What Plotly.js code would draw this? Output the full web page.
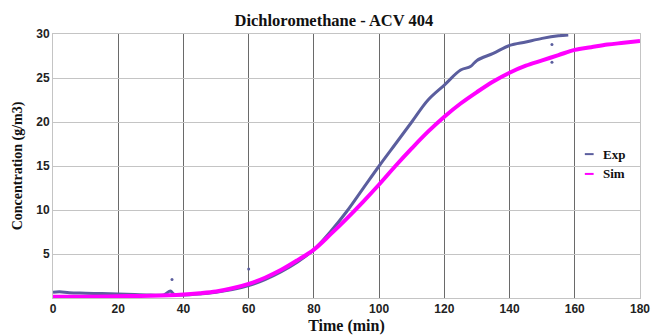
<!DOCTYPE html>
<html>
<head>
<meta charset="utf-8">
<script src="https://cdn.plot.ly/plotly-3.0.1.min.js"></script>
<style>html,body{margin:0;padding:0;background:#fff;}#chart{width:656px;height:335px;}</style>
</head>
<body>
<div id="chart"></div>
<script>
// Experimental data (time in min, concentration in g/m3)
const expTime = [0, 2, 5, 10, 15, 20, 25, 30, 34, 36, 37, 40, 45, 50, 55, 60, 65, 70, 75, 80, 85, 90, 95, 100, 105, 110, 115, 120, 125, 128, 130, 135, 140, 145, 150, 155, 158];
const expConc = [0.65, 0.7, 0.6, 0.55, 0.5, 0.45, 0.4, 0.35, 0.35, 0.8, 0.45, 0.35, 0.45, 0.65, 0.95, 1.4, 2.1, 3.0, 4.1, 5.5, 7.5, 9.8, 12.4, 15.0, 17.5, 20.0, 22.5, 24.2, 25.9, 26.3, 27.0, 27.8, 28.7, 29.1, 29.5, 29.8, 29.9];
// Scattered experimental outliers
const outTime = [36.5, 60, 153, 153];
const outConc = [2.1, 3.3, 28.8, 26.8];
// Simulation
const simTime = [0, 10, 20, 30, 40, 45, 50, 55, 60, 65, 70, 75, 80, 85, 90, 95, 100, 105, 110, 115, 120, 125, 130, 135, 140, 145, 150, 155, 160, 165, 170, 175, 180];
const simConc = [0.15, 0.15, 0.2, 0.25, 0.4, 0.55, 0.75, 1.1, 1.6, 2.3, 3.2, 4.3, 5.5, 7.2, 9.0, 10.9, 12.9, 15.0, 17.0, 18.9, 20.6, 22.1, 23.4, 24.6, 25.6, 26.4, 27.0, 27.6, 28.2, 28.5, 28.8, 29.0, 29.2];
const xTicks = [0, 20, 40, 60, 80, 100, 120, 140, 160, 180];
const yTicks = [5, 10, 15, 20, 25, 30];
const seriesNames = ['Exp', 'Sim'];

const expColor = '#5b5e9e';
const simColor = '#ff00ff';
const seriesColors = [expColor, simColor];

const traces = [
  {x: expTime, y: expConc, name: seriesNames[0], mode: 'lines', showlegend: false, line: {color: expColor, width: 3, shape: 'spline'}},
  {x: simTime, y: simConc, name: seriesNames[1], mode: 'lines', showlegend: false, line: {color: simColor, width: 4, shape: 'spline'}},
  {x: outTime, y: outConc, name: seriesNames[0], mode: 'markers', showlegend: false, marker: {color: expColor, size: 3}}
];

const serif = 'Liberation Serif, Times New Roman, serif';
const sans = 'Liberation Sans, Arial, sans-serif';

// Compact legend (short line swatches) placed inside the plot area
const legendY = [0.545, 0.47];
const shapes = seriesNames.map((n, i) => ({
  type: 'line', xref: 'paper', yref: 'paper', x0: 0.906, x1: 0.921, y0: legendY[i], y1: legendY[i],
  line: {color: seriesColors[i], width: 2}
}));
const annotations = seriesNames.map((n, i) => ({
  text: n, xref: 'paper', yref: 'paper', x: 0.933, y: legendY[i], xanchor: 'left', yanchor: 'middle',
  showarrow: false, font: {family: serif, size: 13, color: '#111', weight: 'bold'}
}));

const layout = {
  width: 656, height: 335,
  margin: {l: 53, r: 16, t: 34, b: 37},
  paper_bgcolor: '#fff', plot_bgcolor: '#fff',
  title: {text: 'Dichloromethane - ACV 404', x: 0.509, xanchor: 'center', y: 0.94, yanchor: 'middle', yref: 'container',
          font: {family: serif, size: 16.5, color: '#111', weight: 'bold'}},
  xaxis: {
    range: [0, 180], tickvals: xTicks, ticktext: xTicks.map(String),
    showgrid: true, gridcolor: '#6a6a6a', gridwidth: 1,
    showline: true, linecolor: '#c4c4c4', linewidth: 1, mirror: true,
    zeroline: false, ticks: '', ticklen: 0, automargin: false,
    tickfont: {family: sans, size: 12, color: '#222', weight: 'bold'},
    title: {text: 'Time (min)', standoff: 6, font: {family: serif, size: 16, color: '#111', weight: 'bold'}}
  },
  yaxis: {
    range: [0, 30], tickvals: yTicks, ticktext: yTicks.map(String),
    showgrid: true, gridcolor: '#c4c4c4', gridwidth: 1,
    showline: true, linecolor: '#c4c4c4', linewidth: 1, mirror: true,
    zeroline: false, ticks: '', ticklen: 0, automargin: false,
    tickfont: {family: sans, size: 12, color: '#222', weight: 'bold'},
    title: {text: 'Concentration (g/m3)', standoff: 10, font: {family: serif, size: 14, color: '#111', weight: 'bold'}}
  },
  showlegend: false,
  shapes: shapes,
  annotations: annotations
};

Plotly.newPlot('chart', traces, layout, {staticPlot: true, displayModeBar: false});
</script>
</body>
</html>
